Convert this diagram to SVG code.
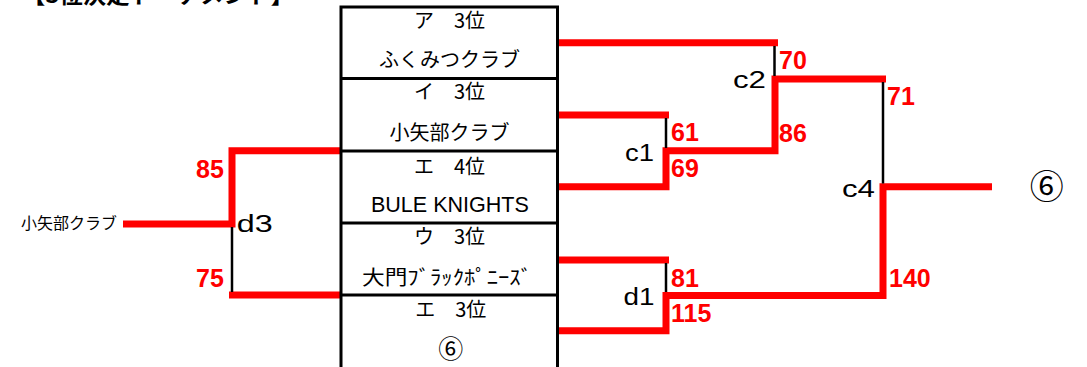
<svg xmlns="http://www.w3.org/2000/svg" width="1087" height="367" viewBox="0 0 1087 367">
<style>
.bg{fill:#fff}
.box{fill:none;stroke:#000;stroke-width:3}
.div{stroke:#000;stroke-width:3}
.win{fill:none;stroke:#f00;stroke-width:7;stroke-linejoin:miter;stroke-linecap:butt}
.lose{stroke:#000;stroke-width:2.5}
.jp{font-family:"Noto Sans CJK JP",sans-serif;font-size:20px;fill:#000;text-anchor:middle}
.lat{font-family:"Liberation Sans",Arial,sans-serif;fill:#000}
.lbl{font-family:"Liberation Sans",Arial,sans-serif;font-size:23px;fill:#000}
.score{font-family:"Liberation Sans",Arial,sans-serif;font-weight:bold;font-size:25px;fill:#f00}
</style>
<rect class="bg" x="0" y="0" width="1087" height="367"/>
<text id="title" x="22" y="2.5" font-family="'Noto Sans CJK JP',sans-serif" font-size="22" font-weight="bold" textLength="272" lengthAdjust="spacingAndGlyphs">【3位決定トーナメント】</text>

<g id="connectors">
  <polyline class="win" points="558,42.7 778,42.7"/>
  <polyline class="win" points="558,115 669,115"/>
  <polyline class="win" points="558,186.7 666,186.7 666,150.7 775,150.7 775,79 886,79"/>
  <polyline class="win" points="558,260 669,260"/>
  <polyline class="win" points="558,330.7 666,330.7 666,295.5 883,295.5 883,186.7 992,186.7"/>
  <polyline class="win" points="340,150.7 232,150.7 232,224 123,224"/>
  <polyline class="win" points="340,295 229,295"/>
  <line class="lose" x1="232" y1="227" x2="232" y2="292"/>
  <line class="lose" x1="666" y1="118" x2="666" y2="148"/>
  <line class="lose" x1="774.5" y1="46" x2="774.5" y2="76"/>
  <line class="lose" x1="666" y1="263" x2="666" y2="292"/>
  <line class="lose" x1="883" y1="82" x2="883" y2="183.5"/>
</g>

<g id="bracket-box">
  <rect class="box" x="341" y="7" width="216.5" height="365"/>
  <line class="div" x1="341" y1="78.5" x2="557.5" y2="78.5"/>
  <line class="div" x1="341" y1="151" x2="557.5" y2="151"/>
  <line class="div" x1="341" y1="223" x2="557.5" y2="223"/>
  <line class="div" x1="341" y1="295" x2="557.5" y2="295"/>
</g>

<g id="row1">
  <text class="jp" x="449.5" y="28">ア　3位</text>
  <text class="jp" x="449.5" y="66.5">ふくみつクラブ</text>
</g>
<g id="row2">
  <text class="jp" x="449.5" y="99">イ　3位</text>
  <text class="jp" x="449.5" y="139.5">小矢部クラブ</text>
</g>
<g id="row3">
  <text class="jp" x="449.5" y="173.5">エ　4位</text>
  <text class="lat" x="449.9" y="212" font-size="21.5" text-anchor="middle" textLength="158" lengthAdjust="spacingAndGlyphs">BULE KNIGHTS</text>
</g>
<g id="row4">
  <text class="jp" x="449.5" y="244">ウ　3位</text>
  <text class="jp" x="447" y="284.5" textLength="170" lengthAdjust="spacingAndGlyphs">大門ﾌﾞﾗｯｸﾎﾟﾆｰｽﾞ</text>
</g>
<g id="row5">
  <text class="jp" x="450.8" y="316.5">エ　3位</text>
  <text class="jp" x="450.8" y="357.5" style="font-size:25px">⑥</text>
</g>

<g id="winner-d3">
  <text x="21" y="229" font-family="'Noto Sans CJK JP',sans-serif" font-size="16">小矢部クラブ</text>
</g>
<g id="final-result">
  <text class="jp" x="1046.7" y="199" style="font-size:34px">⑥</text>
</g>

<g id="match-d3"><text class="lbl" x="236.7" y="231.5" textLength="36" lengthAdjust="spacingAndGlyphs">d3</text></g>
<g id="match-c1"><text class="lbl" x="625" y="161" textLength="29" lengthAdjust="spacingAndGlyphs">c1</text></g>
<g id="match-c2"><text class="lbl" x="733" y="88" textLength="33" lengthAdjust="spacingAndGlyphs">c2</text></g>
<g id="match-c4"><text class="lbl" x="842" y="197" textLength="33" lengthAdjust="spacingAndGlyphs">c4</text></g>
<g id="match-d1"><text class="lbl" x="623.5" y="305" textLength="31" lengthAdjust="spacingAndGlyphs">d1</text></g>

<g id="scores">
  <text class="score" x="196" y="178">85</text>
  <text class="score" x="196" y="287">75</text>
  <text class="score" x="671" y="141">61</text>
  <text class="score" x="671" y="176.5">69</text>
  <text class="score" x="779" y="69">70</text>
  <text class="score" x="779" y="141.5">86</text>
  <text class="score" x="887" y="105">71</text>
  <text class="score" x="889" y="286.5">140</text>
  <text class="score" x="671" y="286.5">81</text>
  <text class="score" x="671" y="321.5">115</text>
</g>
</svg>
